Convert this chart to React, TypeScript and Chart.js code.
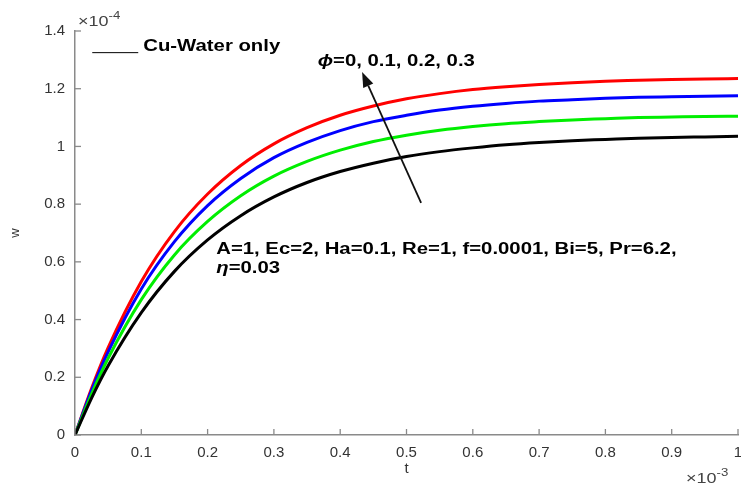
import React, { useEffect, useRef } from "react";
import { Chart, registerables } from "chart.js";

Chart.register(...registerables);

const tValues = [0, 0.025, 0.05, 0.1, 0.15, 0.2, 0.25, 0.3, 0.35, 0.4, 0.45, 0.5, 0.55, 0.6, 0.65, 0.7, 0.75, 0.8, 0.85, 0.9, 0.95, 1];
const wPhi0 = [0, 0.128, 0.24, 0.424, 0.567, 0.676, 0.76, 0.825, 0.875, 0.913, 0.942, 0.965, 0.982, 0.995, 1.006, 1.014, 1.02, 1.024, 1.028, 1.031, 1.033, 1.035];
const wPhi01 = [0, 0.142, 0.266, 0.469, 0.624, 0.74, 0.829, 0.897, 0.948, 0.987, 1.017, 1.039, 1.056, 1.069, 1.079, 1.086, 1.092, 1.096, 1.1, 1.102, 1.104, 1.105];
const wPhi02 = [0, 0.155, 0.288, 0.506, 0.67, 0.795, 0.889, 0.961, 1.014, 1.055, 1.086, 1.108, 1.126, 1.139, 1.149, 1.157, 1.162, 1.167, 1.17, 1.172, 1.174, 1.176];
const wPhi03 = [0, 0.162, 0.303, 0.532, 0.705, 0.835, 0.934, 1.009, 1.065, 1.108, 1.14, 1.165, 1.183, 1.197, 1.207, 1.215, 1.221, 1.226, 1.229, 1.232, 1.234, 1.235];
const seriesLabels = ["ϕ=0", "ϕ=0.1", "ϕ=0.2", "ϕ=0.3"];
const seriesColors = ["#000000", "#00ee00", "#0000ff", "#ff0000"];
const xTicks = [0, 0.1, 0.2, 0.3, 0.4, 0.5, 0.6, 0.7, 0.8, 0.9, 1];
const yTicks = [0, 0.2, 0.4, 0.6, 0.8, 1, 1.2, 1.4];
const arrowTail = { x: 0.522, y: 0.804 };
const arrowHead = { x: 0.433, y: 1.258 };
const paramLine1 = "A=1, Ec=2, Ha=0.1, Re=1, f=0.0001, Bi=5, Pr=6.2,";
const paramLine2 = "=0.03";
const phiText = "=0, 0.1, 0.2, 0.3";

const FONT = "'Liberation Sans', Arial, sans-serif";
const STRETCH = 1.27;

function wideText(ctx: any, parts: { t: string; italic?: boolean }[], x: number, y: number) {
  ctx.save();
  ctx.translate(x, y);
  ctx.scale(STRETCH, 1);
  let off = 0;
  parts.forEach((p) => {
    ctx.font = `${p.italic ? "italic " : ""}bold 16px ${FONT}`;
    ctx.fillText(p.t, off, 0);
    off += ctx.measureText(p.t).width;
  });
  ctx.restore();
}

function expLabel(ctx: any, x: number, y: number, exp: string) {
  ctx.save();
  ctx.translate(x, y);
  ctx.scale(1.2, 1);
  ctx.font = `15px ${FONT}`;
  ctx.fillText("×10", 0, 0);
  const w = ctx.measureText("×10").width;
  ctx.font = `11px ${FONT}`;
  ctx.fillText(exp, w, -7);
  ctx.restore();
}

const decor = {
  id: "decor",
  afterDatasetsDraw(chart: any) {
    const ctx = chart.ctx;
    const xs = chart.scales.x;
    const ys = chart.scales.y;
    const ca = chart.chartArea;
    ctx.save();
    // inward ticks
    ctx.strokeStyle = "#8a8a8a";
    ctx.lineWidth = 1.3;
    xTicks.forEach((v) => {
      const px = xs.getPixelForValue(v);
      ctx.beginPath();
      ctx.moveTo(px, ca.bottom);
      ctx.lineTo(px, ca.bottom - 6);
      ctx.stroke();
    });
    yTicks.forEach((v) => {
      const py = ys.getPixelForValue(v);
      ctx.beginPath();
      ctx.moveTo(ca.left, py);
      ctx.lineTo(ca.left + 6, py);
      ctx.stroke();
    });
    // exponent labels
    ctx.fillStyle = "#444";
    ctx.textBaseline = "alphabetic";
    ctx.textAlign = "left";
    expLabel(ctx, ca.left + 3, ca.top - 5, "-4");
    expLabel(ctx, ca.right - 52, ca.bottom + 48, "-3");
    // axis titles
    ctx.font = `15px ${FONT}`;
    ctx.fillStyle = "#333";
    ctx.textAlign = "center";
    ctx.textBaseline = "middle";
    ctx.fillText("t", (ca.left + ca.right) / 2, ca.bottom + 34);
    ctx.save();
    ctx.translate(15, ys.getPixelForValue(0.7));
    ctx.rotate(-Math.PI / 2);
    ctx.font = `13px ${FONT}`;
    ctx.fillText("w", 0, 0);
    ctx.restore();
    // legend-like label
    ctx.strokeStyle = "#000";
    ctx.lineWidth = 1;
    const lx = xs.getPixelForValue(0.026);
    const ly = ys.getPixelForValue(1.325);
    ctx.beginPath();
    ctx.moveTo(lx, ly);
    ctx.lineTo(lx + 46, ly);
    ctx.stroke();
    ctx.fillStyle = "#000";
    ctx.textAlign = "left";
    ctx.textBaseline = "middle";
    wideText(ctx, [{ t: "Cu-Water only" }], lx + 51, ly - 6);
    // phi label
    const px0 = xs.getPixelForValue(0.366);
    const py0 = ys.getPixelForValue(1.295);
    wideText(ctx, [{ t: "ϕ", italic: true }, { t: phiText }], px0, py0);
    // params
    const qx = xs.getPixelForValue(0.213);
    const qy = ys.getPixelForValue(0.643);
    wideText(ctx, [{ t: paramLine1 }], qx, qy);
    wideText(ctx, [{ t: "η", italic: true }, { t: paramLine2 }], qx, qy + 19);
    // arrow
    const ax = xs.getPixelForValue(arrowTail.x);
    const ay = ys.getPixelForValue(arrowTail.y);
    const hx = xs.getPixelForValue(arrowHead.x);
    const hy = ys.getPixelForValue(arrowHead.y);
    const ang = Math.atan2(hy - ay, hx - ax);
    const hl = 15;
    const hw = 5.5;
    const bx = hx - hl * Math.cos(ang);
    const by = hy - hl * Math.sin(ang);
    ctx.strokeStyle = "#111";
    ctx.lineWidth = 1.8;
    ctx.beginPath();
    ctx.moveTo(ax, ay);
    ctx.lineTo(bx, by);
    ctx.stroke();
    ctx.fillStyle = "#111";
    ctx.beginPath();
    ctx.moveTo(hx, hy);
    ctx.lineTo(bx + hw * Math.sin(ang), by - hw * Math.cos(ang));
    ctx.lineTo(bx - hw * Math.sin(ang), by + hw * Math.cos(ang));
    ctx.closePath();
    ctx.fill();
    ctx.restore();
  },
};

export default function App() {
  const ref = useRef<HTMLCanvasElement | null>(null);
  useEffect(() => {
    document.body.style.margin = "0";
    const series = [wPhi0, wPhi01, wPhi02, wPhi03];
    const chart = new Chart(ref.current as HTMLCanvasElement, {
      type: "line",
      data: {
        datasets: series.map((s, i) => ({
          label: seriesLabels[i],
          data: tValues.map((t, j) => ({ x: t, y: s[j] })),
          borderColor: seriesColors[i],
          borderWidth: 3,
          pointRadius: 0,
          cubicInterpolationMode: "monotone" as const,
          fill: false,
        })),
      },
      options: {
        animation: false,
        responsive: false,
        maintainAspectRatio: false,
        layout: { padding: { top: 31, right: 3, left: 0, bottom: 0 } },
        plugins: { legend: { display: false }, tooltip: { enabled: false } },
        scales: {
          x: {
            type: "linear",
            min: 0,
            max: 1,
            afterFit: (s: any) => { s.height = 51; s.paddingLeft = 0; s.paddingRight = 0; },
            afterBuildTicks: (s: any) => { s.ticks = xTicks.map((v) => ({ value: v })); },
            grid: { display: true, drawOnChartArea: false, drawTicks: false },
            border: { display: true, color: "#8a8a8a", width: 1.5 },
            ticks: {
              padding: 9,
              color: "#333",
              font: { family: FONT, size: 15 },
              maxRotation: 0,
              callback: (v: any) => String(v),
            },
          },
          y: {
            type: "linear",
            min: 0,
            max: 1.4,
            afterFit: (s: any) => { s.width = 75; s.paddingTop = 0; s.paddingBottom = 0; },
            afterBuildTicks: (s: any) => { s.ticks = yTicks.map((v) => ({ value: v })); },
            grid: { display: true, drawOnChartArea: false, drawTicks: false },
            border: { display: true, color: "#8a8a8a", width: 1.5 },
            ticks: {
              padding: 10,
              color: "#333",
              font: { family: FONT, size: 15 },
              callback: (v: any) => String(v),
            },
          },
        },
      },
      plugins: [decor],
    });
    return () => chart.destroy();
  }, []);
  return (
    <div style={{ position: "absolute", left: 0, top: 0, width: 741, height: 486, background: "#fff" }}>
      <canvas ref={ref} width={741} height={486} style={{ width: 741, height: 486 }} />
    </div>
  );
}
